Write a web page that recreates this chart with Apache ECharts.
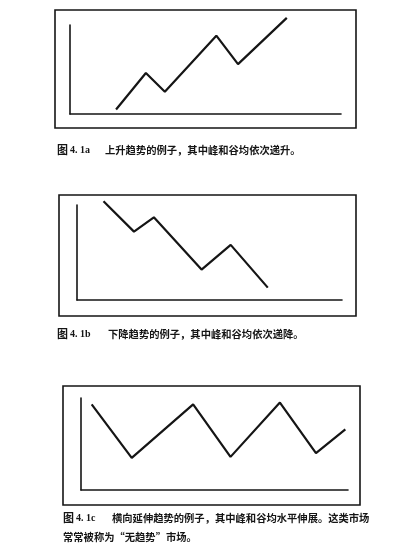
<!DOCTYPE html>
<html><head><meta charset="utf-8">
<script src="https://cdn.jsdelivr.net/npm/echarts@6/dist/echarts.min.js"></script>
<style>html,body{margin:0;padding:0;background:#fff}#c{width:408px;height:557px}</style>
</head><body><div id="c"></div>
<script>
// Figure 4.1a – uptrend (time, price)
const upX = [17, 28, 35, 54, 62, 80];
const upY = [5, 46, 25, 88, 56, 108];
// Figure 4.1b – downtrend
const downX = [10, 21.5, 29, 47, 58, 72];
const downY = [104, 72, 87, 32, 58, 13];
// Figure 4.1c – sideways trend
const sideX = [4, 19, 42, 56, 74.5, 88, 99];
const sideY = [93, 35, 93, 36, 95, 40, 66];

const figNums = ['4. 1a', '4. 1b', '4. 1c'];
const captions = [
  '上升趋势的例子，其中峰和谷均依次递升。',
  '下降趋势的例子，其中峰和谷均依次递降。',
  '横向延伸趋势的例子，其中峰和谷均水平伸展。这类市场',
  '常常被称为“无趋势”市场。'
];

const pairs = (xs, ys) => xs.map((x, i) => [x, ys[i]]);
const FONT = '"Noto Sans CJK SC", sans-serif';
const INK = '#151515';

const grids = [
  {left: 70, top: 25, width: 271, height: 89},
  {left: 77, top: 205, width: 265, height: 95},
  {left: 81, top: 398, width: 267, height: 92}
];
const axisStyle = {show: true, lineStyle: {color: INK, width: 1.6}};
const xAxes = grids.map((g, i) => ({
  type: 'value', gridIndex: i, min: 0, max: 100,
  axisLine: axisStyle, axisTick: {show: false}, axisLabel: {show: false}, splitLine: {show: false}
}));
const yAxes = grids.map((g, i) => ({
  type: 'value', gridIndex: i, min: 0, max: 100,
  axisLine: axisStyle, axisTick: {show: false}, axisLabel: {show: false}, splitLine: {show: false}
}));
const mk = (data, i) => ({
  type: 'line', xAxisIndex: i, yAxisIndex: i, data, symbol: 'none', clip: false,
  lineStyle: {color: INK, width: 2.2}, silent: true, animation: false
});

const frame = (x, y, w, h) => ({
  type: 'rect', shape: {x, y, width: w, height: h},
  style: {fill: 'none', stroke: INK, lineWidth: 1.6}
});
const txt = (x, y, t, font) => ({
  type: 'text', x, y,
  style: {text: t, fill: INK, font, verticalAlign: 'middle', textVerticalAlign: 'middle'}
});
const CJK = 'bold 10.3px ' + FONT;
const TU = 'bold 11px ' + FONT;
const NUM = 'bold 10px "Liberation Serif", serif';

const chart = echarts.init(document.getElementById('c'), null, {renderer: 'canvas'});
chart.setOption({
  animation: false,
  backgroundColor: '#fff',
  grid: grids,
  xAxis: xAxes,
  yAxis: yAxes,
  series: [mk(pairs(upX, upY), 0), mk(pairs(downX, downY), 1), mk(pairs(sideX, sideY), 2)],
  graphic: [
    frame(55, 10, 301, 118),
    frame(59, 195, 297, 121),
    frame(63, 386, 297, 119),
    txt(57, 150, '图', TU), txt(70, 150, figNums[0], NUM),
    txt(105, 150, captions[0], CJK),
    txt(57, 334, '图', TU), txt(70, 334, figNums[1], NUM),
    txt(108, 334, captions[1], CJK),
    txt(63, 518, '图', TU), txt(76, 518, figNums[2], NUM),
    txt(112, 518, captions[2], CJK),
    txt(63, 537, captions[3], CJK)
  ]
});
</script></body></html>
